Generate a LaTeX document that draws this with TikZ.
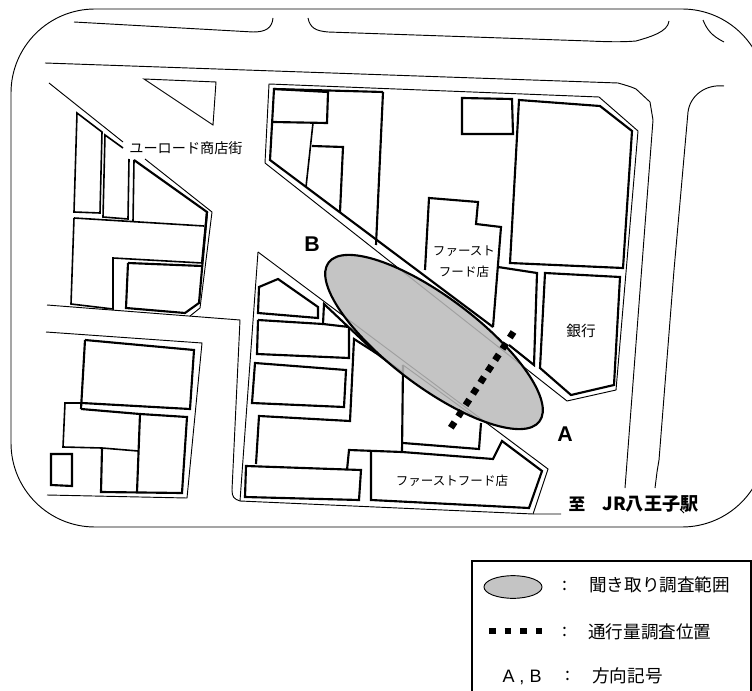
\documentclass[tikz,border=0pt]{standalone}
\usepackage{fontspec}
\setmainfont{Noto Sans CJK JP}
\newfontfamily\latinb{Liberation Sans}
\usetikzlibrary{shapes.geometric}
\tikzset{
  thinl/.style={draw=black,line width=0.7pt,line join=miter},
  medl/.style={draw=black,line width=1.2pt,line join=miter},
  thickl/.style={draw=black,line width=1.6pt,line join=miter},
  areafill/.style={shape=ellipse,draw=black,fill=black!27,fill opacity=.86,inner sep=0pt},
  survey/.style={draw=black,line width=5pt,dash pattern=on 5pt off 5.1pt},
  lab/.style={inner sep=0pt,font=\fontsize{9.4pt}{11pt}\selectfont,text=black},
  leg/.style={inner sep=0pt,font=\fontsize{13.2pt}{15pt}\selectfont,text=black},
  dirlab/.style={inner sep=0pt,font=\latinb\bfseries\fontsize{16pt}{18pt}\selectfont}
}
\begin{document}
\begin{tikzpicture}[x=0.75pt,y=-0.75pt]
\useasboundingbox (0,0) rectangle (752,691);
\begin{scope}
\clip (0,0) rectangle (752,691);
% outer frame
\draw[thinl,rounded corners=63pt] (11,9) rectangle (766,527);
% roads
\draw[thinl] (74,22) -- (253,32) .. controls (266,32) and (272,28) .. (273,18);
\draw[thinl] (308,18) .. controls (310,28) and (316,31) .. (328,32) -- (589,41) .. controls (610,42) and (625,42) .. (636,41) .. controls (650,37) and (668,32) .. (669,21);
\draw[thinl] (703,20) .. controls (707,30) and (712,36) .. (724,42);
\draw[thinl] (45,63) -- (618,83) .. controls (625,85) and (632,87) .. (636,89) -- (650,102) -- (653,120) -- (625,488);
\draw[thinl] (724,86) .. controls (705,84) and (690,96) .. (688,112) -- (674,270) -- (659,460) -- (657,472) -- (655,488);
\draw[thinl] (144,79) -- (216,82) -- (213,125) -- cycle;
\draw[thinl] (49,83) -- (123,142);
% left upper block
\draw[medl] (77,113) -- (102,132) -- (100,213) -- (74,212) -- cycle;
\draw[medl] (123,148) -- (105,135) -- (103,217) -- (128,219) -- (129,159);
\draw[thickl] (134,160) -- (207,212) -- (202,263);
\draw[medl] (134,160) -- (133,222);
\draw[medl] (74,218) -- (204,226);
\draw[medl] (202,263) -- (113,258) -- (113,309) -- (71,304) -- (74,218);
\draw[thickl] (128,263) -- (202,266);
\draw[thickl] (207,212) -- (199,303) -- (185,313) -- (126,308) -- (128,263);
\draw[thinl] (145,159) -- (212,212) -- (200,308) -- (190,316);
% roads lower
\draw[thinl] (47,305) -- (240,320) -- (232,490) .. controls (232,497) and (234,499) .. (240,501) -- (533,514) -- (561,514);
\draw[thinl] (258,252) -- (240,501);
\draw[thinl] (258,252) -- (548,469) -- (533,514);
% lower left block
\draw[thinl] (46,332) -- (202,343) -- (187,498) -- (47,495);
\draw[thickl] (85,340) -- (194,350) -- (190,409) -- (82,403);
\draw[thickl] (85,340) -- (81,409);
\draw[medl] (82,403) -- (65,403) -- (63,447) -- (102,448) -- (138,451);
\draw[thickl] (81,409) -- (140,414) -- (187,417) -- (182,493) -- (101,492) -- (102,448);
\draw[thickl] (140,414) -- (137,492);
\draw[thickl] (51,454) -- (72,454) -- (72,486) -- (51,485) -- cycle;
% middle upper block
\draw[thinl] (265,163) -- (269,84) -- (599,97) -- (638,131) -- (616,390) -- (567,401) -- (265,163);
\draw[thickl] (383,92) -- (274,89) -- (270,160) -- (493,327);
\draw[thickl] (274,89) -- (328,92) -- (327,123) -- (273,122);
\draw[medl] (313,123) -- (306,187);
\draw[thickl] (312,146) -- (343,147) -- (340,212);
\draw[thickl] (383,92) -- (376,245);
\draw[thickl] (462,98) -- (512,99) -- (513,134) -- (462,134) -- cycle;
\draw[thickl] (519,100) -- (600,106) -- (632,131) -- (623,268) -- (510,263) -- cycle;
\draw[thickl] (425,270) -- (429,198) -- (478,202) -- (476,224) -- (501,227) -- (493,327);
\draw[thickl] (498,267) -- (537,273) -- (534,365) -- (509,345);
\draw[thickl] (545,273) -- (620,277) -- (614,385) -- (571,395) -- (540,368) -- cycle;
% middle lower block
\draw[thickl] (259,287) -- (278,279) -- (318,307) -- (318,318) -- (258,313) -- cycle;
\draw[thickl] (349,327) -- (323,324) -- (324,304) -- (376,353) -- (403,373);
\draw[thickl] (258,320) -- (323,324);
\draw[thickl] (258,320) -- (257,354) -- (349,358) -- (349,327);
\draw[thickl] (255,363) -- (346,370) -- (344,407) -- (252,403) -- cycle;
\draw[thickl] (256,464) -- (259,416) -- (350,421) -- (354,339) -- (376,353);
\draw[thickl] (246,466) -- (361,470) -- (359,500) -- (245,497) -- cycle;
\draw[thickl] (347,470) -- (349,450) -- (402,452) -- (493,459) -- (502,441) -- (542,471) -- (529,508) -- (371,500) -- (371,450);
\draw[thickl] (402,452) -- (403,365);
\draw[thickl] (403,443) -- (479,449) -- (481,423);
\draw[thinl] (403,365) -- (476,418);
\draw[thinl] (680,509) -- (684,513);
% survey area
\node[areafill,line width=1.6pt,rotate=-37,minimum width=198pt,minimum height=67pt] (area) at (434,342) {};
% survey position
\coordinate (sa) at (513.5,332);
\coordinate (sb) at (450,429);
\draw[survey] (sa) -- (sb);
% legend box
\coordinate (lb1) at (472,700);
\coordinate (lb2) at (472,561);
\coordinate (lb3) at (751,561);
\coordinate (lb4) at (751,700);
\draw[thinl,line width=0.8pt] (lb1) -- (lb2) -- (lb3) -- (lb4);
\end{scope}
% labels
\node[lab,font=\fontsize{10.6pt}{12pt}\selectfont] (t1) at (186,148) {ユーロード商店街};
\node[lab] (t2) at (464,251) {ファースト};
\node[lab] (t3) at (464,272) {フード店};
\node[lab,font=\fontsize{11pt}{12pt}\selectfont] (t4) at (581,331) {銀行};
\node[lab] (t5) at (452,481) {ファーストフード店};
\node[inner sep=0pt,font=\bfseries\fontsize{12.5pt}{14pt}\selectfont] (t6) at (577,504) {至};
\node[inner sep=0pt,font=\bfseries\fontsize{13.6pt}{15pt}\selectfont] (t7) at (650.5,504) {JR八王子駅};
\node[dirlab] (dA) at (565,434) {A};
\node[dirlab] (dB) at (312,244) {B};
% legend
\node[areafill,line width=0.7pt,minimum width=43.5pt,minimum height=17pt] (lgE) at (513,587) {};
\node[leg,anchor=west] (c1) at (562,586) {:};
\node[leg,anchor=west] (l1) at (589,585) {聞き取り調査範囲};
\coordinate (ga) at (489,631);
\coordinate (gb) at (542,631);
\draw[draw=black,line width=5pt,dash pattern=on 5pt off 6.8pt] (ga) -- (gb);
\node[leg,anchor=west] (c2) at (562,632) {:};
\node[leg,anchor=west] (l2) at (588,632) {通行量調査位置};
\node[inner sep=0pt,font=\latinb\fontsize{13.5pt}{15pt}\selectfont] (l3a) at (522,677) {A , B};
\node[leg,anchor=west] (c3) at (565,676) {:};
\node[leg,anchor=west] (l3) at (592,676) {方向記号};
\end{tikzpicture}
\end{document}
